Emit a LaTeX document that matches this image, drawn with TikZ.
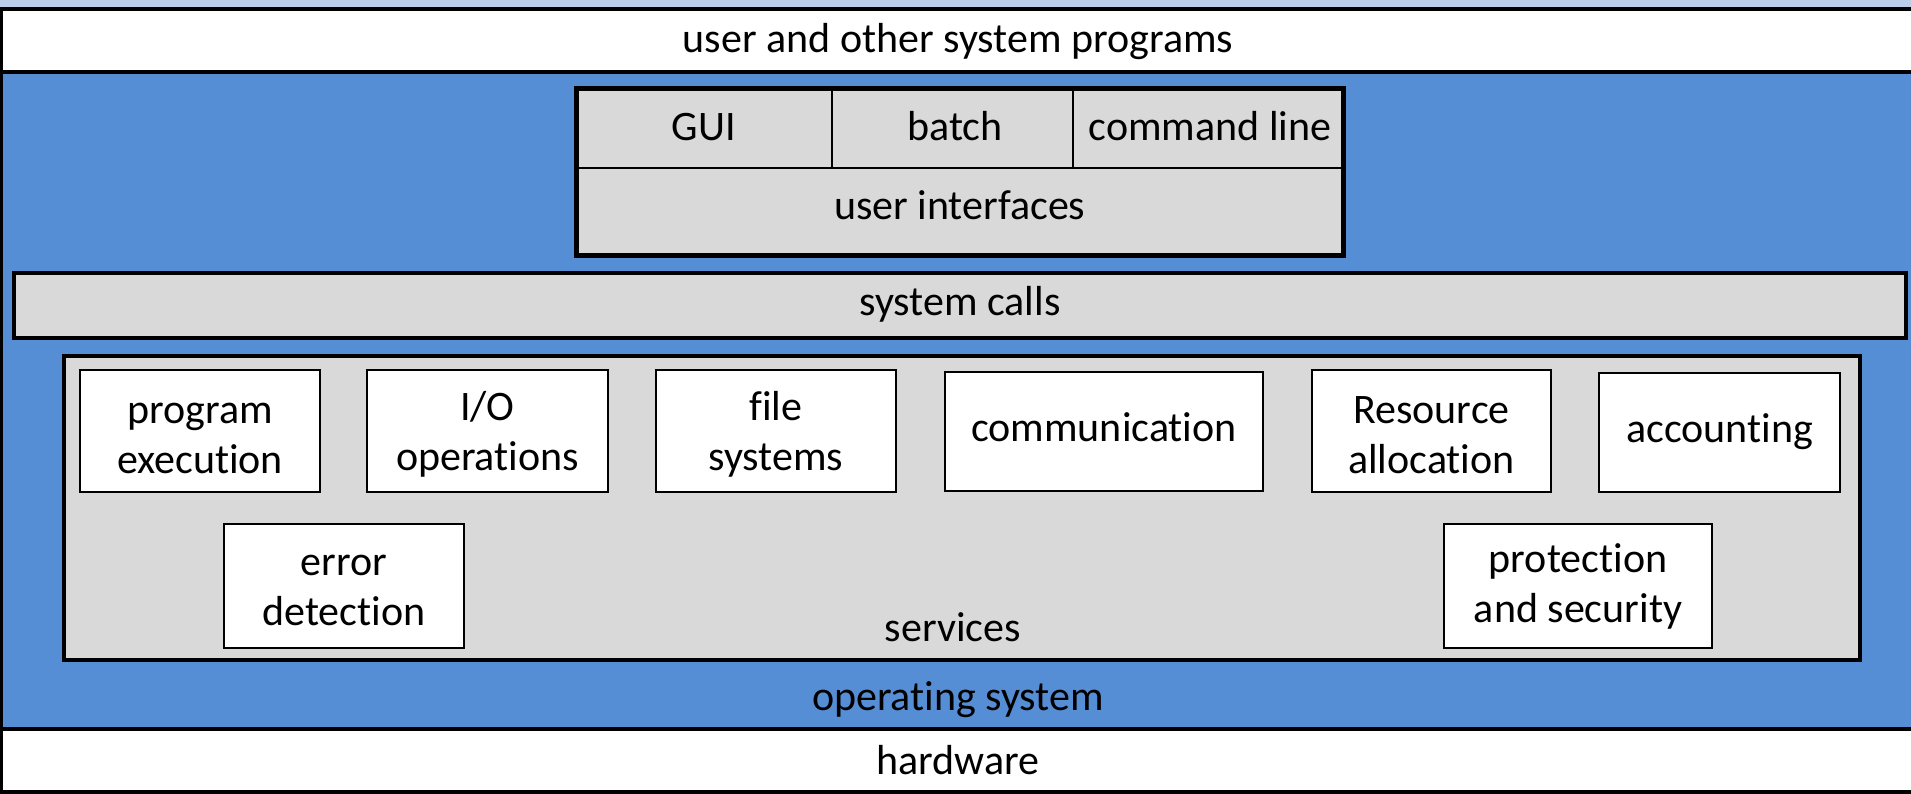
\documentclass[tikz,border=0pt]{standalone}
\usepackage{fontspec}
\setmainfont{Carlito}[Ligatures=NoCommon]
\definecolor{osblue}{RGB}{85,142,213}
\definecolor{topblue}{RGB}{187,205,235}
\definecolor{panel}{RGB}{217,217,217}
\begin{document}
\begin{tikzpicture}[x=1pt,y=-1pt,
  font=\fontsize{42}{50}\selectfont,
  layer/.style={draw=black, line width=4pt, rectangle, inner sep=0pt, outer sep=0pt},
  cell/.style={draw=black, line width=1.5pt, rectangle, inner sep=0pt, outer sep=0pt},
  svc/.style={draw=black, line width=2pt, fill=white, rectangle, inner sep=0pt, outer sep=0pt, align=center},
  lbl/.style={inner sep=0pt, text height=29pt, text depth=9pt}]
\useasboundingbox (0,0) rectangle (1911,794);
\fill[topblue] (0,0) rectangle (1911,8);
% outer layers
\node[layer, fill=white, minimum width=1914pt, minimum height=63pt] (user) at (958,41) {};
\node[lbl] (usertxt) at (958,43) {user and other system programs};
\node[layer, fill=osblue, minimum width=1914pt, minimum height=656.5pt] (os) at (958,400.75) {};
\node[layer, fill=white, minimum width=1914pt, minimum height=62.5pt] (hw) at (958,760.25) {};
\node[lbl] (hwtxt) at (958,764) {hardware};
\node[lbl] (ostxt) at (958,700) {operating system};
% user interfaces
\node[cell, fill=panel, minimum width=256pt, minimum height=79.3pt] (gui) at (704,128.35) {};
\node[cell, fill=panel, minimum width=241pt, minimum height=79.3pt] (batch) at (952.5,128.35) {};
\node[cell, fill=panel, minimum width=270.5pt, minimum height=79.3pt] (cmd) at (1208.25,128.35) {};
\node[cell, fill=panel, minimum width=767.5pt, minimum height=87.5pt] (ui) at (959.75,211.75) {};
\node[lbl] (guitxt) at (704,131) {GUI};
\node[lbl] (batchtxt) at (955,131) {batch};
\node[lbl] (cmdtxt) at (1210,131) {command line};
\node[lbl] (uitxt) at (959.75,209.5) {user interfaces};
\draw[black, line width=5pt] (gui.north west) rectangle (ui.south east);
% system calls
\node[layer, fill=panel, minimum width=1892pt, minimum height=65pt] (sc) at (960,305.5) {};
\node[lbl] (sctxt) at (960,306) {system calls};
% services
\node[layer, fill=panel, minimum width=1796pt, minimum height=304pt] (serv) at (962,508) {};
\node[lbl] (servtxt) at (953,631) {services};
\node[svc, minimum width=240pt, minimum height=122pt] (pe) at (200,431) {\strut program\\execution};
\node[svc, minimum width=241pt, minimum height=122pt] (io) at (487.5,431) {\strut I/O\\operations};
\node[svc, minimum width=240pt, minimum height=122pt] (fs) at (776,431) {\strut file\\systems};
\node[svc, minimum width=318pt, minimum height=119pt, text height=29pt, text depth=9pt] (comm) at (1104,431.5) {communication};
\node[svc, minimum width=239pt, minimum height=122pt] (ra) at (1431.5,431) {\strut Resource\\allocation};
\node[svc, minimum width=241pt, minimum height=119pt, text height=29pt, text depth=9pt] (acc) at (1719.5,432.5) {accounting};
\node[svc, minimum width=240pt, minimum height=124pt] (ed) at (344,586) {};
\node[svc, draw=none, fill=none] (edtxt) at (344,583.5) {\strut error\\detection};
\node[svc, minimum width=268pt, minimum height=124pt] (ps) at (1578,586) {};
\node[svc, draw=none, fill=none] (pstxt) at (1578,583.5) {\strut protection\\and security};
\end{tikzpicture}
\end{document}
